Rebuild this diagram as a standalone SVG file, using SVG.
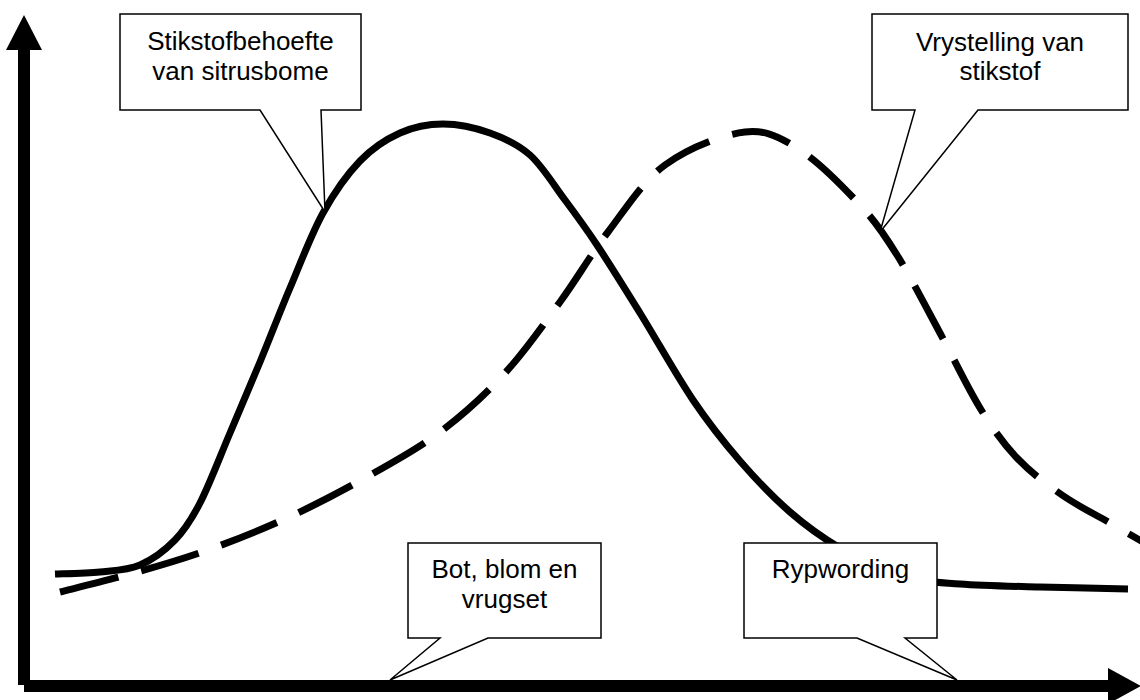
<svg xmlns="http://www.w3.org/2000/svg" width="1140" height="700" viewBox="0 0 1140 700">
<style>
.axis{stroke:#000;stroke-width:12;fill:none}
.head{fill:#000;stroke:none}
.curve{fill:none;stroke:#000;stroke-width:7}
.dash{stroke-dasharray:60 24}
.callout{fill:#fff;stroke:#000;stroke-width:1.5;stroke-linejoin:miter}
.lbl{font-family:"Liberation Sans",Arial,sans-serif;font-size:26px;fill:#000;text-anchor:middle}
</style>
<rect width="1140" height="700" fill="#fff"/>
<g id="axes">
<line class="axis" x1="24" y1="48" x2="24" y2="685"/>
<polygon class="head" points="24,15 42,50 6,50"/>
<line class="axis" x1="24" y1="686" x2="1110" y2="686"/>
<polygon class="head" points="1141,686 1108,668 1108,704"/>
</g>
<g id="connectors">
<path id="demand-curve" class="curve" d="M55,574 C62.5,573.7 85.8,573.5 100,572 C114.2,570.5 127.5,570.3 140,565 C152.5,559.7 165,550.3 175,540 C185,529.7 190.8,520.8 200,503 C209.2,485.2 220,456.5 230,433 C240,409.5 250,386.2 260,362 C270,337.8 279.5,312.8 290,288 C300.5,263.2 311.3,234.2 323,213 C334.7,191.8 347.2,174.3 360,161 C372.8,147.7 386.2,139.2 400,133 C413.8,126.8 428,124 443,124 C458,124 475.5,127.8 490,133 C504.5,138.2 517.5,143.8 530,155 C542.5,166.2 553.8,185 565,200 C576.2,215 584.5,226.2 597,245 C609.5,263.8 624,287.2 640,313 C656,338.8 676.3,375.3 693,400 C709.7,424.7 723.8,442.3 740,461 C756.2,479.7 773.3,497.5 790,512 C806.7,526.5 821.7,537.3 840,548 C858.3,558.7 880,570 900,576 C920,582 936.7,582.2 960,584 C983.3,585.8 1012,586.2 1040,587 C1068,587.8 1113.3,588.7 1128,589"/>
<path id="release-curve" class="curve dash" d="M60,592 C71.7,589 105.8,580.8 130,574 C154.2,567.2 178.8,560.3 205,551 C231.2,541.7 260.3,530.2 287,518 C313.7,505.8 339.5,492.3 365,478 C390.5,463.7 416.7,449.5 440,432 C463.3,414.5 485,394.7 505,373 C525,351.3 542.8,325.5 560,302 C577.2,278.5 590.5,254.8 608,232 C625.5,209.2 642.2,181.7 665,165 C687.8,148.3 722.5,134.5 745,132 C767.5,129.5 780.8,137.8 800,150 C819.2,162.2 843.8,187.5 860,205 C876.2,222.5 883.7,233.7 897,255 C910.3,276.3 926.2,307.5 940,333 C953.8,358.5 967.2,387.2 980,408 C992.8,428.8 1003.3,443.5 1017,458 C1030.7,472.5 1046.5,484.2 1062,495 C1077.5,505.8 1096.2,515 1110,523 C1123.8,531 1139.2,539.7 1145,543"/>
</g>
<g id="callout-demand">
<path class="callout" d="M120,14 H361 V110 H321 L325,212 L260,110 H120 Z"/>
<text class="lbl" x="240.5" y="50">Stikstofbehoefte</text>
<text class="lbl" x="240.5" y="80">van sitrusbome</text>
</g>
<g id="callout-release">
<path class="callout" d="M872,14 H1128 V110 H978 L880,232 L915,110 H872 Z"/>
<text class="lbl" x="1000" y="51">Vrystelling van</text>
<text class="lbl" x="1000" y="80">stikstof</text>
</g>
<g id="callout-bloom">
<path class="callout" d="M408,543 H601 V638 H488 L390,680 L440,638 H408 Z"/>
<text class="lbl" x="504.5" y="578">Bot, blom en</text>
<text class="lbl" x="504.5" y="608">vrugset</text>
</g>
<g id="callout-ripening">
<path class="callout" d="M744,543 H937 V638 H905 L957,680 L857,638 H744 Z"/>
<text class="lbl" x="840.5" y="578">Rypwording</text>
</g>
</svg>
